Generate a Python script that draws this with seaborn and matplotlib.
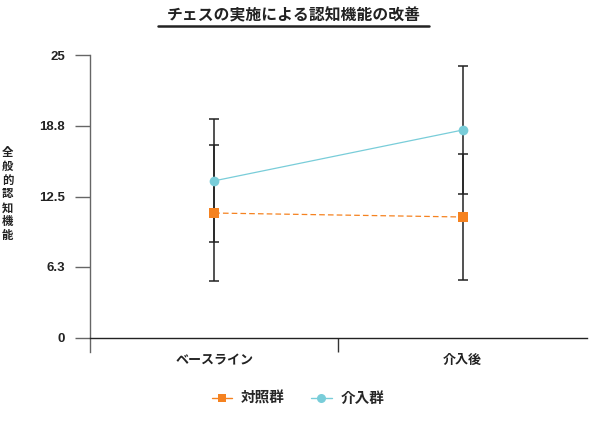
import numpy as np
import pandas as pd
import matplotlib
matplotlib.use("Agg")
import matplotlib.pyplot as plt
from matplotlib.lines import Line2D
import seaborn as sns

# data
stages = ["ベースライン", "介入後"]
groups = ["対照群", "介入群"]
control_mean = [11.05, 10.7]
control_err = [6.05, 5.6]
treat_mean = [13.9, 18.4]
treat_err = [5.45, 5.7]
y_ticks = [0, 6.3, 12.5, 18.8, 25]
y_tick_labels = ["0", "6.3", "12.5", "18.8", "25"]

ORANGE = "#f58220"
CYAN = "#79cdd9"
INK = "#222222"

sns.set_theme(style="white")
plt.rcParams["font.family"] = ["Noto Sans CJK JP", "DejaVu Sans"]

df = pd.DataFrame({
    "stage": stages * 2,
    "group": [groups[0]] * 2 + [groups[1]] * 2,
    "score": control_mean + treat_mean,
})

fig = plt.figure(figsize=(6, 4.22), dpi=100)
ax = fig.add_axes([0.15, 0.166, 0.828, 0.7025])

# error bars behind the markers
ax.errorbar(range(len(stages)), control_mean, yerr=control_err, fmt="none",
            ecolor=INK, elinewidth=1.1, capsize=3.6, capthick=1.1, zorder=1)
ax.errorbar(range(len(stages)), treat_mean, yerr=treat_err, fmt="none",
            ecolor=INK, elinewidth=1.1, capsize=3.6, capthick=1.1, zorder=1)

sns.pointplot(data=df, x="stage", y="score", hue="group", order=stages,
              hue_order=groups, palette=[ORANGE, CYAN], markers=["s", "o"],
              linestyles=["--", "-"], errorbar=None, dodge=False,
              markersize=7, linewidth=0.9, markeredgewidth=0, zorder=3, ax=ax)
for line in ax.lines:
    if line.get_linestyle() == "--":
        line.set_dashes((4.5, 2.5))
if ax.get_legend() is not None:
    ax.get_legend().remove()

# spines first: set_position resets the ticks
for side in ["top", "right"]:
    ax.spines[side].set_visible(False)
ax.spines["left"].set_color("#666666")
ax.spines["left"].set_linewidth(1)
ax.spines["bottom"].set_position(("data", 0))
ax.spines["bottom"].set_color(INK)
ax.spines["bottom"].set_linewidth(1)

ax.set_xlim(-0.5, 1.5)
ax.set_ylim(-1.25, 25)
ax.set_yticks(y_ticks)
ax.tick_params(axis="y", length=10.5, width=1, color="#666666", pad=7.5, left=True)
ax.set_xticks([0, 1])
ax.set_xticks([0.5], minor=True)
ax.tick_params(axis="x", which="major", length=0, pad=11)
ax.tick_params(axis="x", which="minor", length=10, width=1, color="#333333",
               bottom=True)
ax.set_yticklabels(y_tick_labels)
ax.set_xticklabels(stages)
plt.setp(ax.get_yticklabels(), family=["Liberation Sans", "DejaVu Sans"],
         fontsize=9.5, weight="bold", color=INK)
plt.setp(ax.get_xticklabels(), fontsize=9.4, weight="bold", color=INK)
ax.set_xlabel("")
ax.set_ylabel("")

# vertical stacked y label
fig.text(7.5 / 600, 1 - 194 / 422, "\n".join("全般的認知機能"), ha="center",
         va="center", fontsize=8.2, weight="bold", linespacing=1.08, color=INK)

# title with underline
fig.text(294 / 600, 1 - 15 / 422, "チェスの実施による認知機能の改善", ha="center",
         va="center", fontsize=11.4, weight="bold", color=INK)
fig.add_artist(Line2D([158 / 600, 429 / 600], [1 - 26 / 422, 1 - 26 / 422],
                      color=INK, linewidth=1.8))

handles = [
    Line2D([], [], color=ORANGE, marker="s", markersize=6, linewidth=1,
           markeredgewidth=0),
    Line2D([], [], color=CYAN, marker="o", markersize=6.5, linewidth=1,
           markeredgewidth=0),
]
fig.legend(handles, groups, loc="center", bbox_to_anchor=(298 / 600, 1 - 398 / 422),
           ncol=2, frameon=False, handlelength=1.4, handletextpad=0.6,
           columnspacing=1.8, prop={"size": 10.5, "weight": "bold"})

fig.savefig("out.png", dpi=100)
